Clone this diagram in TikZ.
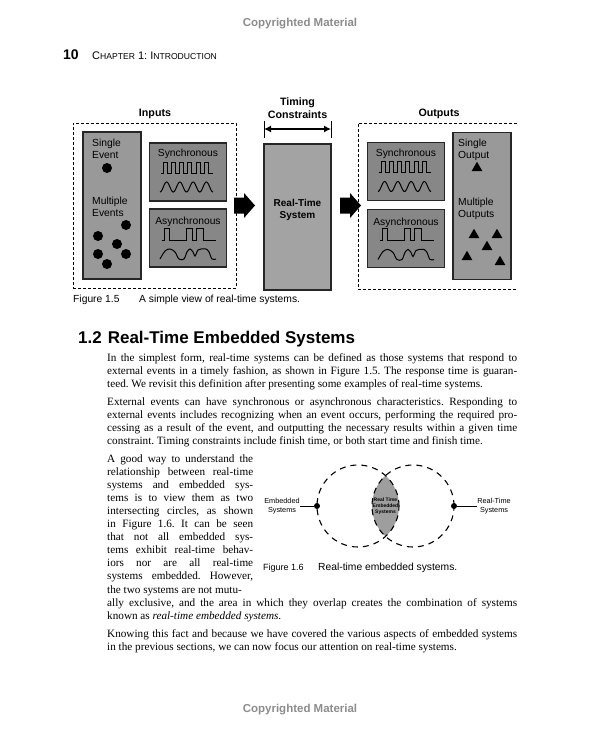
\documentclass[tikz,border=0pt]{standalone}
\usepackage{fontspec}
\setmainfont{Liberation Serif}
\setsansfont{Liberation Sans}
\usetikzlibrary{arrows.meta,shapes.geometric}
\frenchspacing

% wave pictures inside the small boxes, drawn round a given centre
\newcommand{\syncwaves}[1]{%
    \begin{scope}[shift={(#1)}]
        \draw[wave] (-27,1) -- (-25,1) foreach \k in {0,...,5} { -- ++(0,-11) -- ++(4,0) -- ++(0,11) -- ++(4.3,0) };
        \draw[wave] plot[domain=0:4, samples=80, smooth] ({-28+13.25*\x}, {15+5*cos(360*\x)});
    \end{scope}}
\newcommand{\asyncwaves}[1]{%
    \begin{scope}[shift={(#1)}]
        \draw[wave] (-26,2) -- (-24,2) -- (-24,-10) -- (-19,-10) -- (-19,2) -- (-2,2) -- (-2,-10) -- (4,-10) -- (4,2)
            -- (8,2) -- (8,-10) -- (15,-10) -- (15,2) -- (28,2);
        \draw[wave] plot[smooth, tension=0.55] coordinates {(-28,21) (-23,13) (-18,11) (-13,14) (-9,21) (-4,21) (-1,14)
            (2,11) (5,14) (7,18) (10,12) (13,11) (18,11) (21,14) (24,21) (28,21)};
    \end{scope}}

\begin{document}
\begin{tikzpicture}[x=1pt, y=-1pt,
        box/.style={draw=black!85, line width=1.2pt, fill=black!40, inner sep=0pt},
        wavebox/.style={box, fill=black!47, minimum width=77pt, minimum height=58pt},
        tallbox/.style={box, minimum width=58pt, minimum height=147pt},
        group/.style={draw, line width=0.7pt, dash pattern=on 3pt off 2pt},
        wave/.style={line width=1pt, black},
        lbl/.style={font=\sffamily\fontsize{10.3}{12}\selectfont, inner sep=0pt, align=left},
        hdr/.style={font=\sffamily\bfseries\fontsize{10.7}{12.5}\selectfont, inner sep=0pt, align=center},
        dot/.style={circle, fill=black, minimum size=10pt, inner sep=0pt},
        tri/.style={regular polygon, regular polygon sides=3, fill=black, minimum size=12.5pt, inner sep=0pt},
        body/.style={font=\fontsize{11.2}{13.1}\selectfont, text width=410pt, align=justify, inner sep=0pt, anchor=base west},
        caption/.style={font=\sffamily\fontsize{10.3}{12}\selectfont, inner sep=0pt, anchor=base west},
        copyr/.style={font=\sffamily\bfseries\fontsize{11.5}{13}\selectfont, text=black!45, inner sep=0pt},
        dashcirc/.style={line width=1.1pt, dash pattern=on 6pt off 5pt},
        tiny/.style={font=\sffamily\fontsize{7.3}{8.8}\selectfont, inner sep=0pt, align=center},
    ]
    \useasboundingbox (0,0) rectangle (600,736);

    % page head
    \node[copyr] (cm_top) at (300,24) {Copyrighted Material};
    \node[font=\sffamily\bfseries\fontsize{14}{16}\selectfont, inner sep=0pt, anchor=base west] (pgno) at (63,59) {10};
    \node[font=\sffamily\fontsize{11}{13}\selectfont, inner sep=0pt, anchor=base west] (chap) at (92,59)
        {C{\fontsize{8.6}{10}\selectfont HAPTER} 1: I{\fontsize{8.6}{10}\selectfont NTRODUCTION}};

    % figure 1.5
    \node[hdr] (inputs_lbl) at (155,114) {Inputs};
    \node[hdr] (timing_lbl) at (297.5,108) {Timing\\Constraints};
    \node[hdr] (outputs_lbl) at (439,114) {Outputs};
    \node[group, minimum width=163pt, minimum height=165pt, inner sep=0pt] (inputs) at (154.5,205.5) {};
    \draw[group] (517,123) -- (358,123) -- (358,289) -- (517,289);

    \node[tallbox] (events) at (112,205.5) {};
    \node[wavebox] (sync_in) at (188,172) {};
    \node[wavebox] (async_in) at (188,238) {};
    \node[box, fill=black!36, minimum width=67pt, minimum height=146pt] (rts) at (297.5,217) {};
    \node[wavebox] (sync_out) at (406,171.5) {};
    \node[wavebox] (async_out) at (406,238.5) {};
    \node[tallbox] (outs) at (482,206) {};

    \node[lbl, anchor=north west] (single_ev) at (92,139) {Single\\Event};
    \node[dot] (ev) at (107,168) {};
    \node[lbl, anchor=north west] (multi_ev) at (92,197) {Multiple\\Events};
    \foreach \x/\y [count=\i] in {126/225, 98/236, 117/244, 98/254, 126/254, 107/264}
        \node[dot] (ev_\i) at (\x,\y) {};

    \node[lbl] (sync_in_t) at (188,154) {Synchronous};
    \syncwaves{sync_in.center}
    \node[lbl] (async_in_t) at (188,222) {Asynchronous};
    \asyncwaves{async_in.center}

    \node[hdr, font=\sffamily\bfseries\fontsize{10}{12.5}\selectfont] (rts_t) at (297.5,210) {Real-Time\\System};

    \node[lbl] (sync_out_t) at (406,154) {Synchronous};
    \syncwaves{sync_out.center}
    \node[lbl] (async_out_t) at (406,222.5) {Asynchronous};
    \asyncwaves{async_out.center}

    \node[lbl, anchor=north west] (single_out) at (458,139) {Single\\Output};
    \node[tri] (out) at (477,168) {};
    \node[lbl, anchor=north west] (multi_out) at (458,198) {Multiple\\Outputs};
    \foreach \x/\y [count=\i] in {474/235, 497/235, 487/247, 467/257, 500/262}
        \node[tri] (out_\i) at (\x,\y) {};

    % fat arrows and the timing span
    \coordinate (arr_in) at (234,205.5);
    \coordinate (arr_out) at (340,205.5);
    \foreach \a in {arr_in, arr_out}
        \fill (\a) ++(0,-8) -- ++(10,0) -- ++(0,-4.5) -- ++(11,12.5) -- ++(-11,12.5) -- ++(0,-4.5) -- ++(-10,0) -- cycle;
    \coordinate (tc_l) at (264,129);
    \coordinate (tc_r) at (331,129);
    \draw[line width=1.2pt, {Latex[length=7pt,width=7pt]}-{Latex[length=7pt,width=7pt]}] (tc_l) -- (tc_r);
    \draw[line width=1pt] (264,121) -- (264,138) (331,121) -- (331,138);

    \node[caption] (fig15_no) at (73,302) {Figure 1.5};
    \node[caption] (fig15_txt) at (139,302) {A simple view of real-time systems.};

    % section text
    \node[font=\sffamily\bfseries\fontsize{17}{20}\selectfont, inner sep=0pt, anchor=base west] (sec) at (78,343)
        {1.2\hspace{6pt}Real-Time Embedded Systems};
    \node[body] (par1) at (107,361) {In the simplest form, real-time systems can be defined as those systems that respond to\linebreak
        external events in a timely fashion, as shown in Figure 1.5. The response time is guaran-\linebreak
        teed. We revisit this definition after presenting some examples of real-time systems.};
    \node[body] (par2) at (107,405) {External events can have synchronous or asynchronous characteristics. Responding to\linebreak
        external events includes recognizing when an event occurs, performing the required pro-\linebreak
        cessing as a result of the event, and outputting the necessary results within a given time\linebreak
        constraint. Timing constraints include finish time, or both start time and finish time.};
    \node[body, text width=146pt] (par3a) at (107,462) {A good way to understand the\linebreak
        relationship between real-time\linebreak
        systems and embedded sys-\linebreak
        tems is to view them as two\linebreak
        intersecting circles, as shown\linebreak
        in Figure 1.6. It can be seen\linebreak
        that not all embedded sys-\linebreak
        tems exhibit real-time behav-\linebreak
        iors nor are all real-time\linebreak
        systems embedded. However,\linebreak
        the two systems are not mutu-};
    \node[body] (par3b) at (107,606) {ally exclusive, and the area in which they overlap creates the combination of systems\linebreak
        known as \textit{real-time embedded systems}.};
    \node[body] (par4) at (107,637) {Knowing this fact and because we have covered the various aspects of embedded systems\linebreak
        in the previous sections, we can now focus our attention on real-time systems.};

    % figure 1.6
    \coordinate (emb_c) at (358,506);
    \coordinate (rt_c) at (413,506);
    \begin{scope}
        \clip (emb_c) circle (41pt);
        \fill[black!38] (rt_c) circle (41pt);
    \end{scope}
    \draw[dashcirc] (emb_c) circle (41pt);
    \draw[dashcirc] (rt_c) circle (41pt);
    \node[font=\sffamily\bfseries\fontsize{5}{5.8}\selectfont, align=center, inner sep=0pt] (lens_t) at (385.5,506)
        {Real Time\\Embedded\\Systems};
    \node[circle, fill=black, minimum size=6pt, inner sep=0pt] (emb_dot) at (317,506) {};
    \node[circle, fill=black, minimum size=6pt, inner sep=0pt] (rt_dot) at (454,506) {};
    \node[tiny] (emb_lbl) at (282,506) {Embedded\\Systems};
    \node[tiny] (rt_lbl) at (494,506) {Real-Time\\Systems};
    \draw[line width=0.8pt] (emb_lbl.east) -- (emb_dot);
    \draw[line width=0.8pt] (rt_dot) -- (rt_lbl.west);
    \node[caption, font=\sffamily\fontsize{9}{11}\selectfont] (fig16_no) at (263,570) {Figure 1.6};
    \node[caption] (fig16_txt) at (318,570) {Real-time embedded systems.};

    % page foot
    \node[copyr] (cm_bot) at (300,710) {Copyrighted Material};
\end{tikzpicture}
\end{document}
